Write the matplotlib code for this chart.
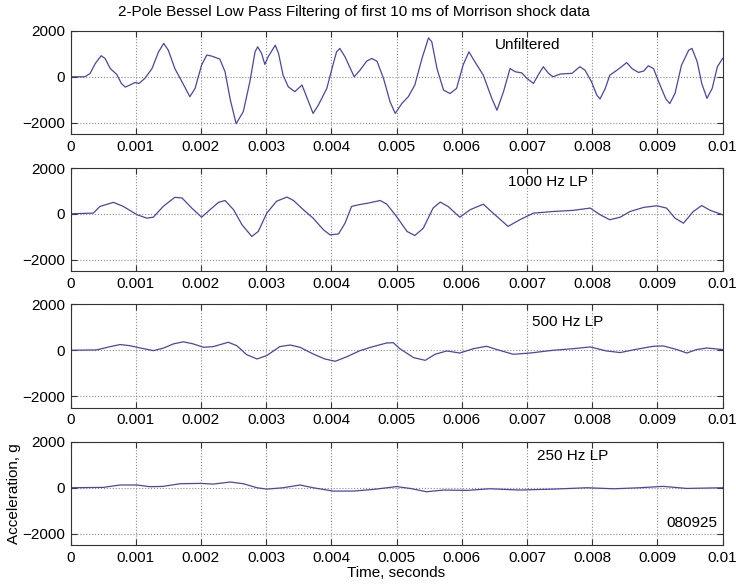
import numpy as np
import matplotlib.pyplot as plt

plt.rcParams['font.family'] = ['Liberation Sans', 'DejaVu Sans']

# time in ms, acceleration in g
t_raw = [0, 0.22, 0.30, 0.38, 0.47, 0.53, 0.61, 0.71, 0.78, 0.84, 0.91, 0.99, 1.05, 1.14,
         1.25, 1.35, 1.43, 1.50, 1.60, 1.71, 1.83, 1.91, 2.01, 2.09, 2.17, 2.29, 2.37, 2.45,
         2.54, 2.65, 2.75, 2.83, 2.87, 2.93, 2.98, 3.03, 3.14, 3.19, 3.26, 3.34, 3.44, 3.55,
         3.62, 3.72, 3.80, 3.93, 4.01, 4.08, 4.13, 4.21, 4.35, 4.44, 4.54, 4.62, 4.70, 4.80,
         4.90, 4.98, 5.08, 5.18, 5.28, 5.39, 5.49, 5.54, 5.62, 5.72, 5.82, 5.92, 6.02, 6.11,
         6.20, 6.33, 6.46, 6.54, 6.64, 6.74, 6.82, 6.92, 7.00, 7.10, 7.17, 7.25, 7.33, 7.40,
         7.51, 7.69, 7.81, 7.89, 7.99, 8.07, 8.12, 8.20, 8.27, 8.38, 8.45, 8.53, 8.61, 8.71,
         8.79, 8.86, 8.94, 9.04, 9.13, 9.19, 9.27, 9.37, 9.48, 9.53, 9.61, 9.68, 9.76, 9.84,
         9.92, 10.0]
a_raw = [0, 0, 145, 580, 920, 800, 360, 100, -290, -450, -360, -250, -290, -70,
         360, 1090, 1460, 1160, 360, -220, -870, -510, 510, 950, 900, 770, 220, -1000,
         -2050, -1520, -220, 1090, 1310, 1020, 540, 870, 1380, 1020, 70, -440, -650, -360,
         -870, -1600, -1240, -510, 360, 1090, 1240, 870, 0, 290, 680, 800, 680, -70,
         -1090, -1600, -1170, -870, -360, 800, 1700, 1530, 360, -580, -730, -510, 510, 1090,
         660, 70, -940, -1460, -650, 360, 220, 170, -70, -290, 70, 440, 150, 0,
         120, 150, 440, 290, -220, -800, -970, -510, 70, 290, 440, 620, 360, 190,
         250, 480, 360, -360, -970, -1170, -730, 510, 1160, 1240, 660, -290, -940, -510,
         440, 800]

t_1000 = [0, 0.35, 0.45, 0.66, 0.81, 1.02, 1.17, 1.27, 1.42, 1.60, 1.71, 1.86, 2.01, 2.14,
          2.27, 2.37, 2.50, 2.63, 2.78, 2.88, 3.01, 3.16, 3.32, 3.42, 3.57, 3.72, 3.88, 3.98,
          4.11, 4.21, 4.31, 4.41, 4.57, 4.75, 4.85, 5.00, 5.16, 5.28, 5.41, 5.56, 5.67, 5.79,
          5.97, 6.13, 6.33, 6.48, 6.71, 6.89, 7.10, 7.40, 7.71, 7.97, 8.12, 8.27, 8.43, 8.58,
          8.79, 8.99, 9.14, 9.27, 9.40, 9.55, 9.68, 9.81, 10.0]
a_1000 = [0, 30, 320, 500, 320, -40, -190, -150, 320, 720, 690, 250, -150, 180,
          500, 580, 180, -480, -990, -770, 30, 550, 730, 580, 180, -190, -700, -920,
          -880, -410, 320, 390, 470, 580, 420, -120, -770, -950, -630, 250, 510, 320,
          -150, 180, 420, 30, -550, -260, 30, 100, 150, 250, -40, -260, -150, 100,
          280, 350, 250, -190, -410, 100, 360, 150, -40]

t_500 = [0, 0.40, 0.61, 0.76, 0.91, 1.07, 1.27, 1.42, 1.58, 1.73, 1.88, 2.04, 2.19, 2.42,
         2.55, 2.70, 2.86, 3.01, 3.21, 3.37, 3.52, 3.72, 3.90, 4.06, 4.24, 4.44, 4.64, 4.85,
         4.95, 5.05, 5.26, 5.44, 5.59, 5.77, 5.97, 6.18, 6.38, 6.54, 6.79, 7.05, 7.40, 7.71,
         7.97, 8.22, 8.43, 8.68, 8.94, 9.09, 9.30, 9.45, 9.60, 9.76, 10.0]
a_500 = [0, 15, 160, 250, 200, 100, -15, 90, 280, 370, 280, 130, 160, 350,
         200, -190, -380, -230, 160, 230, 130, -160, -380, -480, -280, -15, 160, 320,
         330, 70, -320, -440, -175, -30, -120, 70, 175, 30, -175, -120, 0, 70,
         145, -30, -100, 45, 175, 190, 30, -120, 30, 100, 30]

t_250 = [0, 0.50, 0.76, 1.02, 1.22, 1.42, 1.68, 1.99, 2.19, 2.45, 2.65, 2.86, 3.01, 3.26,
         3.52, 3.72, 4.03, 4.34, 4.64, 5.00, 5.21, 5.46, 5.72, 6.08, 6.43, 6.89, 7.40, 7.92,
         8.33, 8.73, 9.09, 9.45, 10.0]
a_250 = [0, 15, 120, 120, 45, 60, 175, 190, 160, 250, 175, 0, -60, 0,
         120, 0, -145, -145, -75, 50, -30, -175, -100, -115, -45, -100, -60, 0,
         -45, 0, 60, -30, 0]

panel_labels = ['Unfiltered', '1000 Hz LP', '500 Hz LP', '250 Hz LP']
label_pos = [(6.51, 1370), (6.71, 1400), (7.08, 1220), (7.15, 1380)]
series = [(t_raw, a_raw), (t_1000, a_1000), (t_500, a_500), (t_250, a_250)]

x_ticks = [0, 0.001, 0.002, 0.003, 0.004, 0.005, 0.006, 0.007, 0.008, 0.009, 0.01]
x_tick_labels = ['0', '0.001', '0.002', '0.003', '0.004', '0.005', '0.006', '0.007',
                 '0.008', '0.009', '0.01']
y_ticks = [-2000, 0, 2000]

fig = plt.figure(figsize=(7.36, 5.86), dpi=100)
bottoms = [0.7713, 0.5375, 0.3046, 0.070]

axes = []
for i, (t, a) in enumerate(series):
    ax = fig.add_axes([0.0958, bottoms[i], 0.886, 0.1758])
    ax.plot(np.array(t) * 1e-3, a, color='#4646ae', linewidth=0.9)
    ax.set_xlim(0, 0.01)
    ax.set_ylim(-2500, 2000)
    ax.set_xticks(x_ticks)
    ax.set_xticklabels(x_tick_labels)
    ax.set_yticks(y_ticks)
    ax.tick_params(direction='in', length=4, labelsize=11, top=True, right=True,
                   color='#333333', pad=4)
    ax.grid(True, linestyle=':', color='#8c8c8c', linewidth=0.8)
    for s in ax.spines.values():
        s.set_color('#333333')
        s.set_linewidth(0.8)
    tx, ty = label_pos[i]
    ax.text(tx * 1e-3, ty, panel_labels[i], fontsize=11, va='center', ha='left')
    axes.append(ax)

axes[3].text(9.14e-3, -1520, '080925', fontsize=11, va='center', ha='left')
axes[3].set_ylabel('Acceleration, g', fontsize=11, labelpad=1)
axes[3].set_xlabel('Time, seconds', fontsize=11, labelpad=1)

fig.text(354 / 736, 1 - 12 / 586, '2-Pole Bessel Low Pass Filtering of first 10 ms of Morrison shock data',
         fontsize=11, ha='center', va='center')

fig.savefig('out.png', dpi=100)
